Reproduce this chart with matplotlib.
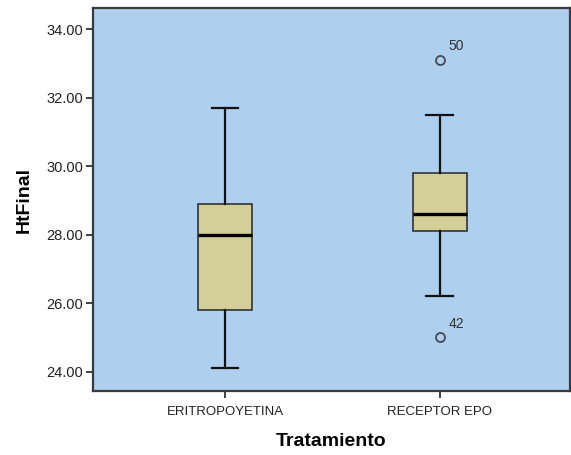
import matplotlib
matplotlib.use("Agg")
import matplotlib.pyplot as plt

plt.rcParams['font.family'] = ['Liberation Sans', 'DejaVu Sans']

# box summary per group
groups = ['ERITROPOYETINA', 'RECEPTOR EPO']
whislo = [24.1, 26.2]
q1 = [25.8, 28.1]
med = [28.0, 28.6]
q3 = [28.9, 29.8]
whishi = [31.7, 31.5]
outliers = [[], [33.1, 25.0]]
outlier_ids = [[], ['50', '42']]

stats = []
for i in range(len(groups)):
    stats.append({'label': groups[i], 'whislo': whislo[i], 'q1': q1[i], 'med': med[i],
                  'q3': q3[i], 'whishi': whishi[i], 'fliers': outliers[i]})

fig = plt.figure(figsize=(5.71, 4.55), dpi=100)
ax = fig.add_axes([0.163, 0.141, 0.835, 0.841])
ax.set_facecolor('#aecfee')

ax.bxp(stats, positions=[1, 2], widths=0.25, patch_artist=True,
       boxprops=dict(facecolor='#d4ce99', edgecolor='#333333', linewidth=1.2),
       medianprops=dict(color='black', linewidth=2.4),
       whiskerprops=dict(color='#111111', linewidth=1.6),
       capprops=dict(color='#111111', linewidth=1.6),
       flierprops=dict(marker='o', markersize=6.5, markerfacecolor='none',
                       markeredgecolor='#444a55', markeredgewidth=1.3))

# outlier case numbers
for i in range(len(groups)):
    for val, lab in zip(outliers[i], outlier_ids[i]):
        ax.annotate(lab, (i + 1, val), xytext=(6, 7), textcoords='offset points',
                    fontsize=10, color='#333333')

ax.set_xlim(0.386, 2.605)
ax.set_ylim(23.44, 34.61)
ax.set_yticks([24, 26, 28, 30, 32, 34])
ax.set_yticklabels(['%.2f' % v for v in [24, 26, 28, 30, 32, 34]], fontsize=10.5, color='#222222')
ax.set_xticks([1, 2])
ax.set_xticklabels(groups, fontsize=9.5, color='#222222')
ax.tick_params(axis='both', direction='out', length=5, width=1.3, color='#333333')
ax.tick_params(axis='y', pad=2)
ax.tick_params(axis='x', pad=6)
for s in ax.spines.values():
    s.set_color('#3a3a3a')
    s.set_linewidth(1.6)

ax.set_ylabel('HtFinal', fontsize=14, fontweight='bold', labelpad=10)
ax.set_xlabel('Tratamiento', fontsize=14, fontweight='bold', labelpad=11)

fig.savefig('out.png', dpi=100)
